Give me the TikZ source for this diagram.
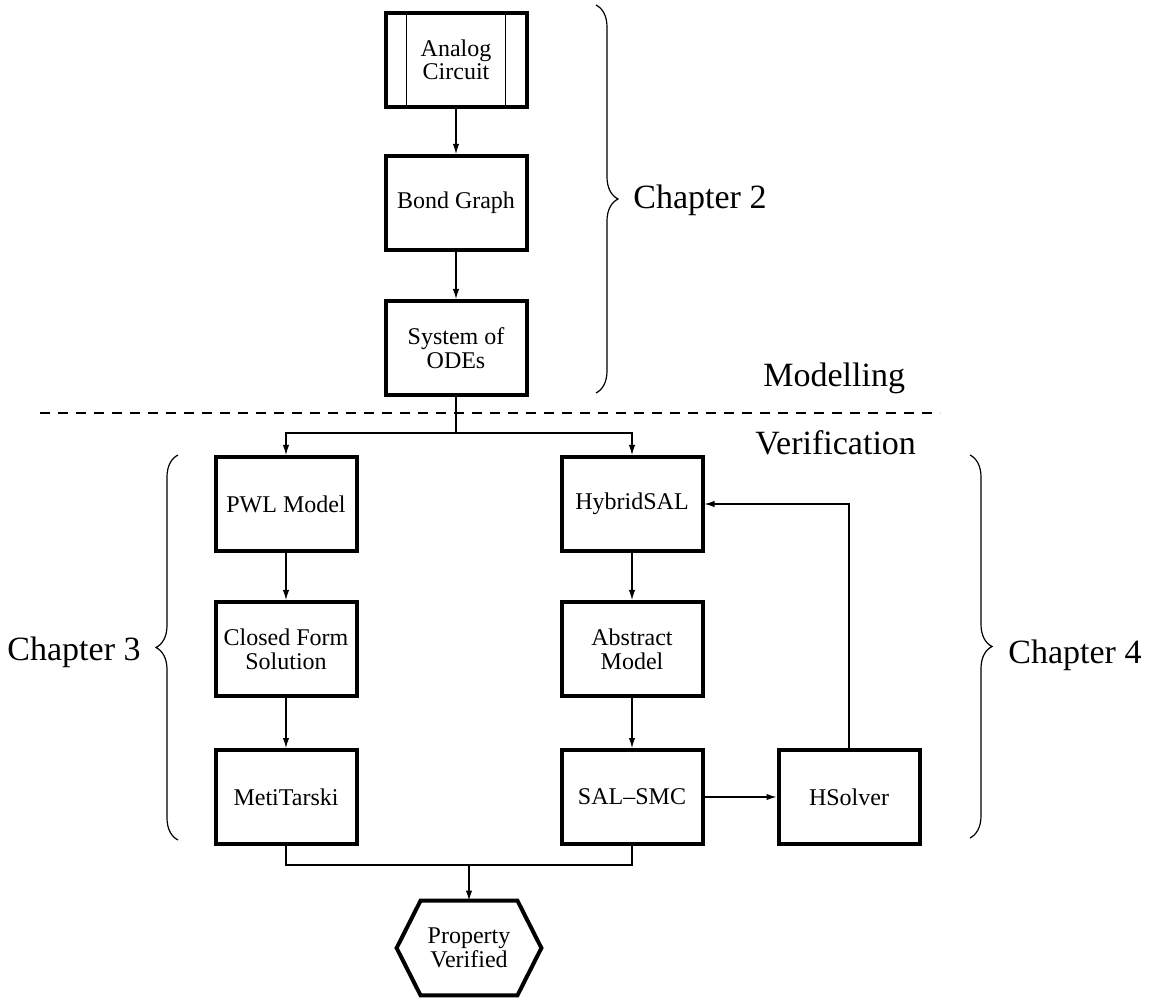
\documentclass[tikz,border=0pt]{standalone}
\usepackage{fontspec}
\setmainfont{Liberation Serif}
\usetikzlibrary{arrows.meta,decorations.pathreplacing}

\begin{document}
\begin{tikzpicture}[x=0.5pt,y=-0.5pt]
\tikzset{
  flowbox/.style={rectangle,draw=black,line width=2pt,minimum width=70.5pt,minimum height=47pt,inner sep=1pt,align=center,font=\fontsize{12}{12}\selectfont},
  hexbox/.style={rectangle,minimum width=72pt,minimum height=47pt,inner sep=1pt,align=center,font=\fontsize{12}{12}\selectfont},
  hexline/.style={draw=black,line width=2pt,line join=miter},
  flowedge/.style={draw=black,line width=0.6pt},
  directed/.style={flowedge,-{Latex[length=5pt,width=3.2pt]}},
  chapbrace/.style={draw=black,line width=0.6pt,decorate,decoration={brace,amplitude=11pt}},
  chaptext/.style={font=\fontsize{17}{20}\selectfont,inner sep=0pt},
  separator/.style={draw=black,line width=1pt,dash pattern=on 5pt off 4pt}
}
\useasboundingbox (0,0) rectangle (1151,999);
% modelling part
\node[flowbox,font=\fontsize{12}{9}\selectfont] (n_analog) at (456,60) {Analog\\Circuit};
\node[flowbox] (n_bond) at (456,203) {Bond Graph};
\node[flowbox] (n_odes) at (456,348) {System of\\ODEs};
% verification part
\node[flowbox] (n_pwl) at (286,504) {PWL Model};
\node[flowbox] (n_closed) at (286,649) {Closed Form\\Solution};
\node[flowbox] (n_meti) at (286,797) {MetiTarski};
\node[flowbox] (n_hybrid) at (632,504) {HybridSAL};
\node[flowbox] (n_abstract) at (632,649) {Abstract\\Model};
\node[flowbox] (n_salsmc) at (632,797) {SAL--SMC};
\node[flowbox] (n_hsolver) at (849,797) {HSolver};
\node[hexbox] (n_prop) at (469,948) {Property\\Verified};
\draw[hexline] (n_prop.west) -- ([xshift=12pt]n_prop.north west) -- ([xshift=-12pt]n_prop.north east)
  -- (n_prop.east) -- ([xshift=-12pt]n_prop.south east) -- ([xshift=12pt]n_prop.south west) -- cycle;
\draw[flowedge] ([xshift=11.5pt]n_analog.north west) -- ([xshift=11.5pt]n_analog.south west);
\draw[flowedge] ([xshift=-11.5pt]n_analog.north east) -- ([xshift=-11.5pt]n_analog.south east);
\coordinate (c_split) at (456,433);
\coordinate (c_join) at (469,865);
\draw[directed] (n_analog) -- (n_bond);
\draw[directed] (n_bond) -- (n_odes);
\draw[flowedge] (n_odes.south) -- (c_split);
\draw[directed] (c_split) -| (n_pwl.north);
\draw[directed] (c_split) -| (n_hybrid.north);
\draw[directed] (n_pwl) -- (n_closed);
\draw[directed] (n_closed) -- (n_meti);
\draw[directed] (n_hybrid) -- (n_abstract);
\draw[directed] (n_abstract) -- (n_salsmc);
\draw[directed] (n_salsmc) -- (n_hsolver);
\draw[directed] (n_hsolver.north) |- (n_hybrid.east);
\draw[flowedge] (n_meti.south) |- (c_join) -| (n_salsmc.south);
\draw[directed] (c_join) -- (n_prop.north);
% separator and chapters
\draw[separator] (40,413) -- (940,413);
\node[chaptext,anchor=west] (t_model) at (763,378) {Modelling};
\node[chaptext,anchor=west] (t_verif) at (755,443) {Verification};
\draw[chapbrace] (596,5) -- (596,393);
\draw[chapbrace] (178,840) -- (178,455);
\draw[chapbrace] (970,455) -- (970,838);
\node[chaptext,anchor=west] (t_ch2) at (633,200) {Chapter 2};
\node[chaptext,anchor=east] (t_ch3) at (141,652) {Chapter 3};
\node[chaptext,anchor=west] (t_ch4) at (1008,655) {Chapter 4};
\end{tikzpicture}
\end{document}
